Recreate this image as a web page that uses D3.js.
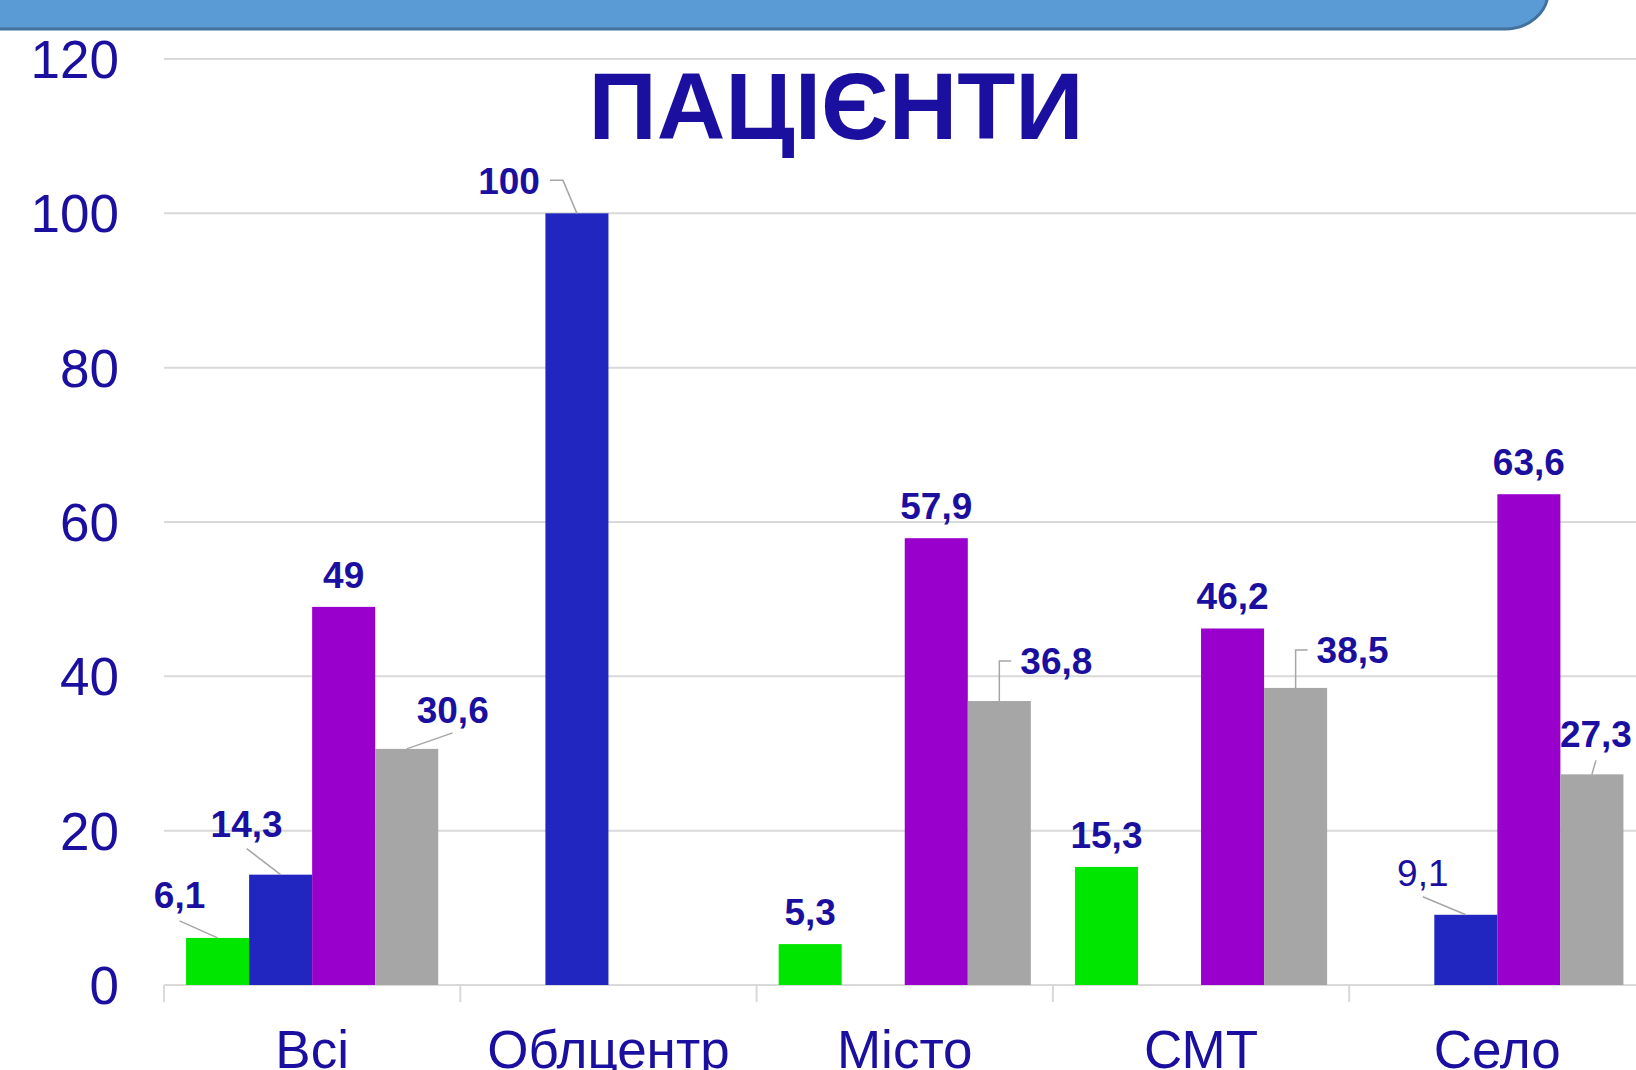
<!DOCTYPE html>
<html>
<head>
<meta charset="utf-8">
<script src="https://cdn.jsdelivr.net/npm/d3@7"></script>
<style>
  body { margin: 0; background: #fff; }
  svg { display: block; font-family: "Liberation Sans", Arial, sans-serif; }
</style>
</head>
<body>
<div id="chart"></div>
<script>
// categories along the x axis
const categories = ["Всі", "Облцентр", "Місто", "СМТ", "Село"];

// one array per series (null = no bar)
const seriesKeys = ["green", "blue", "purple", "gray"];
const greenValues  = [6.1, null, 5.3, 15.3, null];
const blueValues   = [14.3, 100, null, null, 9.1];
const purpleValues = [49, null, 57.9, 46.2, 63.6];
const grayValues   = [30.6, null, 36.8, 38.5, 27.3];

const yTicks = [0, 20, 40, 60, 80, 100, 120];
const title = "ПАЦІЄНТИ";

const seriesValues = {
  green: greenValues,
  blue: blueValues,
  purple: purpleValues,
  gray: grayValues
};

const colors = {
  green: "#00E600",
  blue: "#2126C1",
  purple: "#9900CC",
  gray: "#A6A6A6"
};
const textColor = "#1A0F9F";

// labels that sit off to the side with a leader line (offsets from bar top centre)
const leaderLabels = {
  "green|Всі":      { path: [[0, 0], [-38, -17]], dx: -38, dy: -30 },
  "blue|Всі":       { path: [[0, 0], [-34, -26]], dx: -34, dy: -38 },
  "gray|Всі":       { path: [[0, 0], [46, -16]], dx: 46, dy: -26 },
  "blue|Облцентр":  { path: [[0, 0], [-14, -33], [-27, -33]], dx: -37, dy: -19, anchor: "end" },
  "gray|Місто":     { path: [[0, 0], [0, -40], [12, -40]], dx: 21, dy: -27, anchor: "start" },
  "gray|СМТ":       { path: [[0, 0], [0, -38], [12, -38]], dx: 21, dy: -25, anchor: "start" },
  "blue|Село":      { path: [[0, 0], [-43, -18]], dx: -43, dy: -29, weight: "normal" },
  "gray|Село":      { path: [[0, 0], [4, -14]], dx: 4, dy: -27 }
};

const W = 1636, H = 1070;
const left = 164, step = 296.3;

const svg = d3.select("#chart").append("svg")
  .attr("width", W)
  .attr("height", H);

// header band from the slide
svg.append("path")
  .attr("d", "M-10,-10 L1548,-10 L1548,-8 A43,37 0 0 1 1505,29 L-10,29 Z")
  .attr("fill", "#5B9BD5")
  .attr("stroke", "#41719C")
  .attr("stroke-width", 3);

// scales
const y = d3.scaleLinear().domain([0, 120]).range([985, 59]);
const x0 = d3.scaleBand().domain(categories)
  .range([left, left + step * categories.length])
  .paddingInner(0).paddingOuter(0);
const x1 = d3.scaleBand().domain(seriesKeys)
  .range([0, x0.bandwidth()])
  .paddingInner(0).paddingOuter(0.35);

// gridlines
svg.append("g")
  .selectAll("line")
  .data(yTicks.filter(d => d > 0))
  .join("line")
  .attr("x1", left).attr("x2", W)
  .attr("y1", d => y(d)).attr("y2", d => y(d))
  .attr("stroke", "#D9D9D9")
  .attr("stroke-width", 2);

// y axis labels
svg.append("g")
  .selectAll("text")
  .data(yTicks)
  .join("text")
  .attr("x", 119)
  .attr("y", d => y(d))
  .attr("dy", "0.36em")
  .attr("text-anchor", "end")
  .attr("font-size", 53)
  .attr("fill", textColor)
  .text(d => d);

// x axis
const xAxis = svg.append("g")
  .attr("transform", `translate(0,${y(0)})`)
  .call(d3.axisBottom(x0).tickSize(0).tickFormat(""));
xAxis.select(".domain").attr("stroke", "#D9D9D9").attr("stroke-width", 2)
  .attr("d", `M${left},0H${W}`);

svg.append("g")
  .selectAll("line")
  .data(categories)
  .join("line")
  .attr("x1", d => x0(d)).attr("x2", d => x0(d))
  .attr("y1", y(0)).attr("y2", y(0) + 17)
  .attr("stroke", "#D9D9D9")
  .attr("stroke-width", 2);

svg.append("g")
  .selectAll("text")
  .data(categories)
  .join("text")
  .attr("x", d => x0(d) + x0.bandwidth() / 2)
  .attr("y", 1068)
  .attr("text-anchor", "middle")
  .attr("font-size", 53)
  .attr("fill", textColor)
  .text(d => d);

// bars
const barData = [];
categories.forEach((c, i) => {
  seriesKeys.forEach(s => {
    const v = seriesValues[s][i];
    if (v != null) barData.push({ category: c, series: s, value: v });
  });
});

svg.append("g")
  .selectAll("rect")
  .data(barData)
  .join("rect")
  .attr("x", d => x0(d.category) + x1(d.series))
  .attr("y", d => y(d.value))
  .attr("width", x1.bandwidth())
  .attr("height", d => y(0) - y(d.value))
  .attr("fill", d => colors[d.series]);

// title
svg.append("text")
  .attr("x", 836)
  .attr("y", 139)
  .attr("text-anchor", "middle")
  .attr("font-size", 95)
  .attr("font-weight", "bold")
  .attr("fill", textColor)
  .text(title);

// data labels
const fmt = v => String(v).replace(".", ",");
const labelG = svg.append("g");

barData.forEach(d => {
  const cx = x0(d.category) + x1(d.series) + x1.bandwidth() / 2;
  const ty = y(d.value);
  const cfg = leaderLabels[d.series + "|" + d.category];
  if (cfg) {
    labelG.append("path")
      .attr("d", d3.line()(cfg.path.map(p => [cx + p[0], ty + p[1]])))
      .attr("fill", "none")
      .attr("stroke", "#A6A6A6")
      .attr("stroke-width", 1.5);
  }
  labelG.append("text")
    .attr("x", cx + (cfg ? cfg.dx : 0))
    .attr("y", ty + (cfg ? cfg.dy : -19))
    .attr("text-anchor", cfg && cfg.anchor ? cfg.anchor : "middle")
    .attr("font-size", 37)
    .attr("font-weight", cfg && cfg.weight ? cfg.weight : "bold")
    .attr("fill", textColor)
    .text(fmt(d.value));
});
</script>
</body>
</html>
